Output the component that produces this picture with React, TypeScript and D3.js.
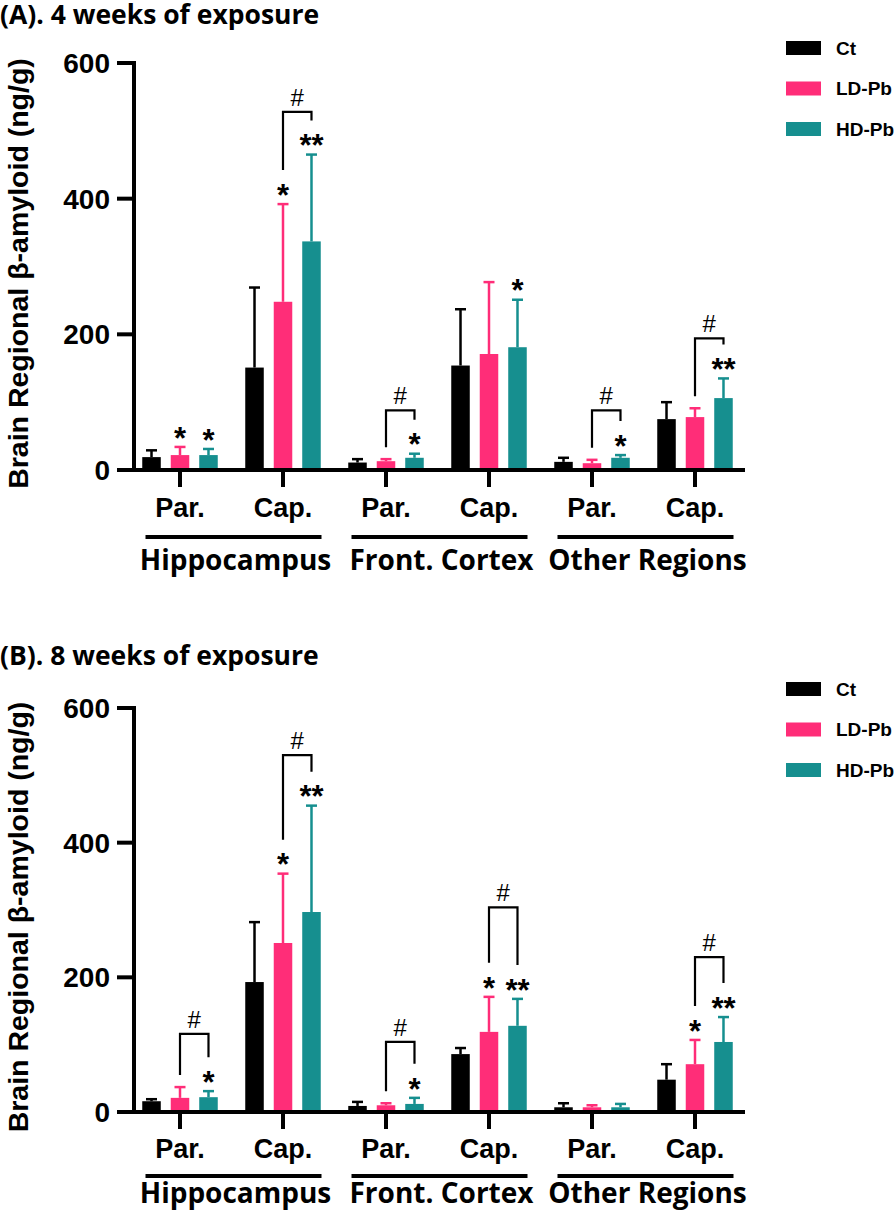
import React from "react";
import * as d3 from "d3";

const categories = ["Par.", "Cap.", "Par.", "Cap.", "Par.", "Cap."];
const regions = ["Hippocampus", "Front. Cortex", "Other Regions"];
const seriesNames = ["Ct", "LD-Pb", "HD-Pb"];
const seriesColors = ["#000000", "#ff2d78", "#168f8f"];
const yTicks = [0, 200, 400, 600];

// Panel A: 4 weeks
const meanA_Ct = [19, 151, 11, 154, 12, 75];
const sdA_Ct = [10, 118, 5, 83, 6, 25];
const meanA_LD = [22, 248, 13, 171, 10, 78];
const sdA_LD = [12, 144, 3, 106, 5, 13];
const meanA_HD = [22, 337, 18, 181, 18, 106];
const sdA_HD = [9, 128, 6, 70, 4, 29];
const starsA_LD = ["*", "*", "", "", "", ""];
const starsA_HD = ["*", "**", "*", "*", "*", "**"];
const bracketCatsA = [1, 2, 4, 5];
const bracketLevelsA = [528, 88, 88, 194];

// Panel B: 8 weeks
const meanB_Ct = [16, 193, 9, 86, 7, 48];
const sdB_Ct = [3, 89, 6, 9, 6, 23];
const meanB_LD = [21, 251, 10, 119, 7, 71];
const sdB_LD = [16, 103, 3, 52, 3, 36];
const meanB_HD = [22, 297, 12, 128, 7, 104];
const sdB_HD = [9, 158, 9, 40, 5, 37];
const starsB_LD = ["", "*", "", "*", "", "*"];
const starsB_HD = ["*", "**", "*", "**", "", "**"];
const bracketCatsB = [0, 1, 2, 3, 5];
const bracketLevelsB = [116, 530, 104, 304, 230];

const ARIAL = "'Liberation Sans', Arial, sans-serif";
const CALIBRI = "'Open Sans', sans-serif";

type PanelProps = {
  title: string;
  offset: number;
  y0: number;
  yTop: number;
  catDy: number;
  lineDy: number;
  groupDy: number;
  means: number[][];
  sds: number[][];
  stars: string[][];
  bracketCats: number[];
  bracketLevels: number[];
};

function Panel({ title, offset, y0, yTop, catDy, lineDy, groupDy, means, sds, stars, bracketCats, bracketLevels }: PanelProps) {
  const x = d3.scaleBand<number>().domain(d3.range(categories.length)).range([128.5, 746.5]).padding(0);
  const inner = d3.scaleBand<number>().domain(d3.range(seriesNames.length)).range([-37.75, 37.75]).paddingInner(0.35).paddingOuter(0);
  const y = d3.scaleLinear().domain([0, 600]).range([y0, yTop]);
  const bw = inner.bandwidth();
  const cx = (i: number) => (x(i) as number) + x.bandwidth() / 2;
  const bx = (i: number, s: number) => cx(i) + (inner(s) as number) + bw / 2;
  const errTop = (i: number, s: number) => y(means[s][i] + sds[s][i]);
  const starFs = 31;
  const starCenter = (i: number, s: number) => errTop(i, s) - 16;

  const axisX = 134;
  const yLabelCenter = (y(0) + y(600)) / 2 + 7;

  return (
    <g>
      <text x={0} y={offset + 24} fontFamily={CALIBRI} fontWeight={700} fontSize={26.5} fill="#000">
        {title}
      </text>
      {/* legend */}
      {seriesNames.map((n, s) => (
        <g key={n}>
          <rect x={786} y={offset + 41 + s * 40.5} width={35} height={14} fill={seriesColors[s]} />
          <text x={836} y={offset + 48 + s * 40.5} dy="0.36em" fontFamily={ARIAL} fontWeight={700} fontSize={19}>
            {n}
          </text>
        </g>
      ))}
      {/* y label */}
      <text
        transform={`translate(28,${yLabelCenter}) rotate(-90)`}
        textAnchor="middle"
        fontFamily={ARIAL}
        fontWeight={700}
        fontSize={28.5}
      >
        Brain Regional β-amyloid (ng/g)
      </text>
      {/* bars */}
      {categories.map((c, i) =>
        seriesNames.map((n, s) => {
          const m = means[s][i];
          const top = errTop(i, s);
          const xc = bx(i, s);
          return (
            <g key={`${i}-${s}`}>
              <line x1={xc} x2={xc} y1={y(m)} y2={top} stroke={seriesColors[s]} strokeWidth={2.5} />
              <line x1={xc - 5.5} x2={xc + 5.5} y1={top} y2={top} stroke={seriesColors[s]} strokeWidth={2.5} />
              <rect x={xc - bw / 2} y={y(m)} width={bw} height={y0 - y(m)} fill={seriesColors[s]} />
            </g>
          );
        })
      )}
      {/* stars */}
      {categories.map((c, i) =>
        [1, 2].map((s) =>
          stars[s - 1][i] ? (
            <text
              key={`st-${i}-${s}`}
              x={bx(i, s)}
              y={starCenter(i, s) + 0.57 * starFs}
              textAnchor="middle"
              fontFamily={ARIAL}
              fontWeight={700}
              fontSize={starFs}
            >
              {stars[s - 1][i]}
            </text>
          ) : null
        )
      )}
      {/* brackets */}
      {bracketCats.map((i, k) => {
        const top = y(bracketLevels[k]);
        const xl = bx(i, 1);
        const xr = bx(i, 2);
        const legBottom = (s: number) => (stars[s - 1][i] ? starCenter(i, s) - 18 : errTop(i, s) - 12);
        return (
          <g key={`br-${i}`}>
            <path
              d={`M${xl},${legBottom(1)}V${top}H${xr}V${legBottom(2)}`}
              fill="none"
              stroke="#000"
              strokeWidth={2.2}
            />
            <text x={(xl + xr) / 2} y={top - 6} textAnchor="middle" fontFamily={ARIAL} fontSize={24}>
              #
            </text>
          </g>
        );
      })}
      {/* y axis */}
      <line x1={axisX} x2={axisX} y1={y(600) - 2} y2={y0 + 2} stroke="#000" strokeWidth={4} />
      {yTicks.map((t) => (
        <g key={t}>
          <line x1={axisX - 17} x2={axisX} y1={y(t)} y2={y(t)} stroke="#000" strokeWidth={4} />
          <text x={110} y={y(t)} dy="0.36em" textAnchor="end" fontFamily={ARIAL} fontWeight={700} fontSize={28}>
            {t}
          </text>
        </g>
      ))}
      {/* x axis */}
      <line x1={axisX - 2} x2={745} y1={y0} y2={y0} stroke="#000" strokeWidth={4} />
      {categories.map((c, i) => (
        <g key={`xt-${i}`}>
          <line x1={cx(i)} x2={cx(i)} y1={y0} y2={y0 + 17} stroke="#000" strokeWidth={4} />
          <text x={cx(i)} y={y0 + catDy} textAnchor="middle" fontFamily={ARIAL} fontWeight={700} fontSize={27}>
            {c}
          </text>
        </g>
      ))}
      {regions.map((r, g) => {
        const mid = (cx(2 * g) + cx(2 * g + 1)) / 2 + 2;
        return (
          <g key={r}>
            <line x1={mid - 88} x2={mid + 88} y1={y0 + lineDy} y2={y0 + lineDy} stroke="#000" strokeWidth={4} />
            <text x={mid + 2} y={y0 + groupDy} textAnchor="middle" fontFamily={CALIBRI} fontWeight={700} fontSize={28}>
              {r}
            </text>
          </g>
        );
      })}
    </g>
  );
}

export default function App() {
  return (
    <svg
      width={896}
      height={1214}
      viewBox="0 0 896 1214"
      style={{ position: "absolute", left: 0, top: 0, background: "#fff" }}
    >
      <rect width={896} height={1214} fill="#fff" />
      <Panel
        title="(A). 4 weeks of exposure"
        offset={0}
        y0={470}
        yTop={63}
        catDy={47}
        lineDy={67}
        groupDy={100}
        means={[meanA_Ct, meanA_LD, meanA_HD]}
        sds={[sdA_Ct, sdA_LD, sdA_HD]}
        stars={[starsA_LD, starsA_HD]}
        bracketCats={bracketCatsA}
        bracketLevels={bracketLevelsA}
      />
      <Panel
        title="(B). 8 weeks of exposure"
        offset={641}
        y0={1112}
        yTop={708}
        catDy={46}
        lineDy={64}
        groupDy={91}
        means={[meanB_Ct, meanB_LD, meanB_HD]}
        sds={[sdB_Ct, sdB_LD, sdB_HD]}
        stars={[starsB_LD, starsB_HD]}
        bracketCats={bracketCatsB}
        bracketLevels={bracketLevelsB}
      />
    </svg>
  );
}
